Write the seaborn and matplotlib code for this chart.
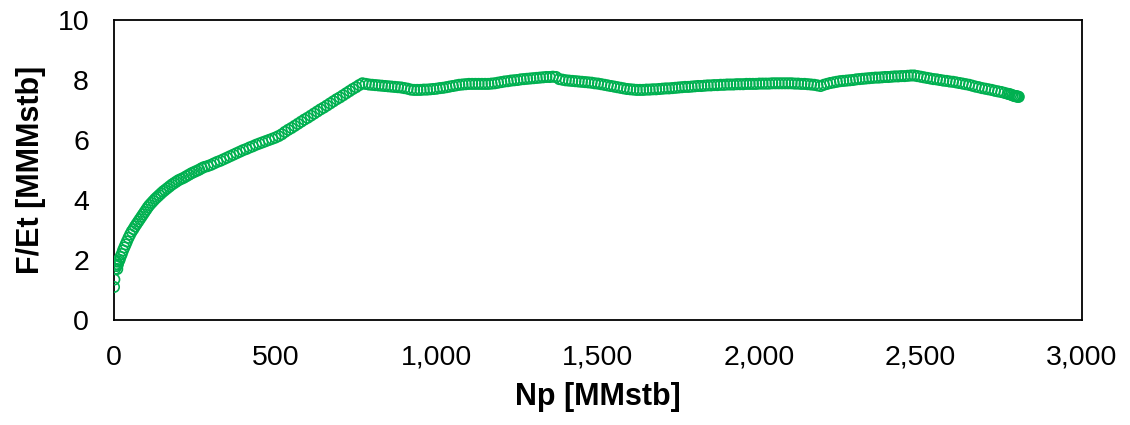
import matplotlib
matplotlib.use("Agg")
import matplotlib.pyplot as plt
import matplotlib.ticker as mticker
import seaborn as sns
import pandas as pd

# Cumulative oil production Np [MMstb]
np_mmstb = [
    0, 1, 3, 4, 6, 8, 10, 12, 14, 17, 20, 24, 28, 32,
    36, 40, 45, 50, 55, 60, 65, 70, 75, 80, 85, 90, 95, 100,
    105, 110, 116, 122, 128, 134, 140, 146, 152, 158, 165, 172, 179, 186,
    193, 200, 208, 216, 224, 232, 240, 248, 256, 264, 272, 280, 290, 300,
    310, 320, 330, 340, 350, 360, 370, 380, 390, 400, 410, 420, 430, 440,
    450, 460, 470, 480, 490, 500, 510, 520, 530, 540, 550, 560, 570, 580,
    590, 600, 610, 620, 630, 640, 650, 660, 670, 680, 690, 700, 710, 720,
    730, 740, 750, 760, 770, 780, 790, 800, 810, 820, 830, 840, 850, 860,
    870, 880, 890, 900, 910, 920, 930, 940, 950, 960, 970, 980, 990, 1000,
    1010, 1020, 1030, 1040, 1050, 1060, 1070, 1080, 1090, 1100, 1110, 1120,
    1130, 1140, 1150, 1160, 1170, 1180, 1190, 1200, 1210, 1220, 1230, 1240,
    1250, 1260, 1270, 1280, 1290, 1300, 1310, 1320, 1330, 1340, 1350, 1360,
    1370, 1380, 1390, 1400, 1410, 1420, 1430, 1440, 1450, 1460, 1470, 1480,
    1490, 1500, 1510, 1520, 1530, 1540, 1550, 1560, 1570, 1580, 1590, 1600,
    1610, 1620, 1630, 1640, 1650, 1660, 1670, 1680, 1690, 1700, 1710, 1720,
    1730, 1740, 1750, 1760, 1770, 1780, 1790, 1800, 1810, 1820, 1830, 1840,
    1850, 1860, 1870, 1880, 1890, 1900, 1910, 1920, 1930, 1940, 1950, 1960,
    1970, 1980, 1990, 2000, 2010, 2020, 2030, 2040, 2050, 2060, 2070, 2080,
    2090, 2100, 2110, 2120, 2130, 2140, 2150, 2160, 2170, 2180, 2190, 2200,
    2210, 2220, 2230, 2240, 2250, 2260, 2270, 2280, 2290, 2300, 2310, 2320,
    2330, 2340, 2350, 2360, 2370, 2380, 2390, 2400, 2410, 2420, 2430, 2440,
    2450, 2460, 2470, 2480, 2490, 2500, 2510, 2520, 2530, 2540, 2550, 2560,
    2570, 2580, 2590, 2600, 2610, 2620, 2630, 2640, 2650, 2660, 2670, 2680,
    2690, 2700, 2710, 2720, 2730, 2740, 2750, 2760, 2770, 2775, 2780, 2785,
    2790, 2793, 2796, 2799, 2802, 2804,
]

# Havlena-Odeh F/Et [MMMstb]
f_over_et = [
    1.10, 1.35, 1.70, 1.85, 1.95, 1.80, 1.70, 1.85, 1.95, 2.00, 2.10, 2.20, 2.32, 2.42,
    2.52, 2.62, 2.74, 2.85, 2.95, 3.03, 3.12, 3.20, 3.28, 3.36, 3.44, 3.52, 3.60, 3.68,
    3.76, 3.83, 3.90, 3.97, 4.04, 4.10, 4.16, 4.22, 4.28, 4.33, 4.39, 4.45, 4.51, 4.56,
    4.61, 4.66, 4.70, 4.74, 4.79, 4.84, 4.89, 4.93, 4.97, 5.01, 5.06, 5.10, 5.13, 5.17,
    5.22, 5.27, 5.31, 5.36, 5.41, 5.46, 5.51, 5.56, 5.61, 5.66, 5.70, 5.75, 5.79, 5.84,
    5.88, 5.92, 5.96, 6.00, 6.04, 6.08, 6.13, 6.19, 6.27, 6.34, 6.40, 6.47, 6.54, 6.61,
    6.68, 6.74, 6.81, 6.88, 6.95, 7.02, 7.08, 7.15, 7.22, 7.29, 7.36, 7.42, 7.49, 7.56,
    7.63, 7.70, 7.76, 7.83, 7.89, 7.87, 7.85, 7.84, 7.83, 7.82, 7.81, 7.80, 7.79, 7.78,
    7.77, 7.76, 7.75, 7.73, 7.71, 7.68, 7.67, 7.67, 7.67, 7.68, 7.68, 7.69, 7.70, 7.71,
    7.73, 7.74, 7.76, 7.78, 7.80, 7.82, 7.84, 7.85, 7.86, 7.87, 7.87, 7.87,
    7.87, 7.87, 7.87, 7.87, 7.88, 7.89, 7.91, 7.93, 7.95, 7.96, 7.98, 7.99,
    8.00, 8.02, 8.03, 8.04, 8.05, 8.06, 8.07, 8.08, 8.09, 8.10, 8.10, 8.11,
    8.10, 8.03, 8.01, 7.99, 7.98, 7.97, 7.96, 7.95, 7.94, 7.93, 7.92, 7.91,
    7.89, 7.88, 7.86, 7.84, 7.82, 7.80, 7.78, 7.76, 7.74, 7.72, 7.70, 7.69,
    7.68, 7.67, 7.67, 7.67, 7.68, 7.68, 7.69, 7.69, 7.70, 7.71, 7.72, 7.72,
    7.73, 7.74, 7.75, 7.76, 7.77, 7.77, 7.78, 7.79, 7.80, 7.80, 7.81, 7.82,
    7.82, 7.83, 7.83, 7.84, 7.84, 7.85, 7.85, 7.85, 7.86, 7.86, 7.86, 7.87,
    7.87, 7.87, 7.87, 7.88, 7.88, 7.88, 7.88, 7.89, 7.89, 7.89, 7.89, 7.89,
    7.89, 7.89, 7.88, 7.88, 7.87, 7.87, 7.86, 7.85, 7.84, 7.82, 7.80, 7.84,
    7.87, 7.90, 7.92, 7.94, 7.96, 7.97, 7.98, 7.99, 8.00, 8.02, 8.03, 8.04,
    8.05, 8.06, 8.07, 8.08, 8.08, 8.09, 8.10, 8.10, 8.11, 8.12, 8.12, 8.13,
    8.13, 8.14, 8.15, 8.15, 8.13, 8.11, 8.09, 8.07, 8.05, 8.03, 8.02, 8.00,
    7.98, 7.97, 7.95, 7.94, 7.92, 7.90, 7.88, 7.86, 7.84, 7.81, 7.78, 7.76,
    7.73, 7.71, 7.69, 7.67, 7.64, 7.62, 7.60, 7.57, 7.54, 7.53, 7.51, 7.49,
    7.47, 7.46, 7.46, 7.45, 7.44, 7.44,
]

x_ticks = [0, 500, 1000, 1500, 2000, 2500, 3000]
y_ticks = [0, 2, 4, 6, 8, 10]

x_title = "Np [MMstb]"
y_title = "F/Et [MMMstb]"

df = pd.DataFrame({"Np": np_mmstb, "FEt": f_over_et})

sns.set_theme(style="white")
plt.rcParams["font.family"] = ["Liberation Sans", "DejaVu Sans"]

GREEN = "#00B050"

fig = plt.figure(figsize=(11.3, 4.25), dpi=100)
ax = fig.add_axes([114 / 1130, 105 / 425, 968 / 1130, 300 / 425])

sns.scatterplot(data=df, x="Np", y="FEt", ax=ax, marker="o", s=56,
                color=GREEN, linewidth=1.2, legend=False, zorder=3)
for coll in ax.collections:
    coll.set_facecolor("none")
    coll.set_edgecolor(GREEN)
    coll.set_linewidth(1.2)

ax.set_xlim(x_ticks[0], x_ticks[-1])
ax.set_ylim(y_ticks[0], y_ticks[-1])
ax.set_xticks(x_ticks)
ax.set_yticks(y_ticks)
ax.xaxis.set_major_formatter(mticker.FuncFormatter(lambda v, p: f"{int(v):,}"))
ax.yaxis.set_major_formatter(mticker.FuncFormatter(lambda v, p: f"{int(v)}"))
ax.tick_params(axis="both", length=0, labelsize=20.5, colors="black")
ax.tick_params(axis="x", pad=18)
ax.tick_params(axis="y", pad=18)
ax.grid(False)

for side in ["left", "right", "top", "bottom"]:
    ax.spines[side].set_visible(True)
    ax.spines[side].set_color("black")
    ax.spines[side].set_linewidth(1.3)

ax.set_xlabel(x_title, fontsize=22, fontweight="bold", color="black")
ax.set_ylabel(y_title, fontsize=22, fontweight="bold", color="black")
ax.xaxis.set_label_coords(0.5, -0.205)
ax.yaxis.set_label_coords(-0.07, 0.5)

fig.savefig("out.png", dpi=100, facecolor="white")
